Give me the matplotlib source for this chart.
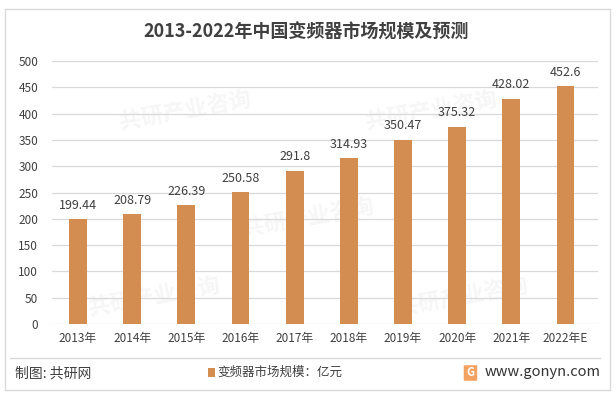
import matplotlib
matplotlib.use("Agg")
import matplotlib.pyplot as plt
from matplotlib.patches import Rectangle, FancyBboxPatch

plt.rcParams['font.family'] = ['Noto Sans CJK SC', 'DejaVu Sans']

years = ["2013年", "2014年", "2015年", "2016年", "2017年",
         "2018年", "2019年", "2020年", "2021年", "2022年E"]
values = [199.44, 208.79, 226.39, 250.58, 291.8,
          314.93, 350.47, 375.32, 428.02, 452.6]
labels = ["199.44", "208.79", "226.39", "250.58", "291.8",
          "314.93", "350.47", "375.32", "428.02", "452.6"]

bar_color = "#D38D50"
text_color = "#404040"

fig = plt.figure(figsize=(6.16, 3.96), dpi=100)
fig.patch.set_facecolor("white")

# outer frame
fig.patches.append(Rectangle((5/616, 6/396), 605/616, 381/396, transform=fig.transFigure,
                             fill=False, edgecolor="#D9D9D9", linewidth=1))

# very faint watermarks, kept inside the frame
for (wx, wy) in [(0.30, 0.72), (0.70, 0.72), (0.50, 0.45), (0.25, 0.25), (0.75, 0.25)]:
    fig.text(wx, wy, "共研产业咨询", fontsize=16, fontweight="bold", color="#F6F6F6",
             rotation=10, ha="center", va="center", zorder=-5)

ax = fig.add_axes([52/616, 1 - 324/396, (598 - 52)/616, (324 - 61)/396])
ax.set_zorder(2)
ax.patch.set_alpha(0)
x = range(len(years))
ax.bar(x, values, width=0.33, color=bar_color, zorder=3)
for xi, v, lab in zip(x, values, labels):
    ax.text(xi, v + 14, lab, ha="center", va="bottom", fontsize=9, color=text_color)

ax.set_xlim(-0.48, 9.6)
ax.set_ylim(0, 500)
ax.set_yticks(range(0, 501, 50))
ax.set_xticks(list(x))
ax.set_xticklabels(years)
ax.tick_params(axis="both", length=0, labelsize=8.5, colors=text_color)
ax.tick_params(axis="x", pad=6)
ax.tick_params(axis="y", pad=10)
ax.yaxis.grid(True, color="#D9D9D9", linewidth=0.9, zorder=0)
for s in ax.spines.values():
    s.set_visible(False)

fig.text(306/616, 1 - 32/396, "2013-2022年中国变频器市场规模及预测", ha="center", va="center",
         fontsize=13, fontweight="bold", color=text_color)

# bottom separator
fig.add_artist(plt.Line2D([10/616, 600/616], [1 - 358/396, 1 - 358/396],
                          transform=fig.transFigure, color="#D9D9D9", linewidth=1))

fig.text(15/616, 1 - 373/396, "制图: 共研网", ha="left", va="center", fontsize=10, color=text_color)

fig.patches.append(Rectangle((208/616, 1 - 377/396), 7/616, 9/396, transform=fig.transFigure,
                             facecolor=bar_color, edgecolor="none"))
fig.text(217/616, 1 - 372/396, "变频器市场规模：亿元", ha="left", va="center",
         fontsize=9, color=text_color)

fig.patches.append(FancyBboxPatch((465/616, 1 - 380/396), 11/616, 14/396,
                                  boxstyle="round,pad=0.002", transform=fig.transFigure,
                                  facecolor="#F4A261", edgecolor="none"))
fig.text(470.5/616, 1 - 373/396, "G", ha="center", va="center", fontsize=8,
         fontweight="bold", color="white")
fig.text(485/616, 1 - 372/396, "www.gonyn.com", ha="left", va="center", fontsize=10.5,
         color="#333333")

fig.savefig("out.png", dpi=100)
